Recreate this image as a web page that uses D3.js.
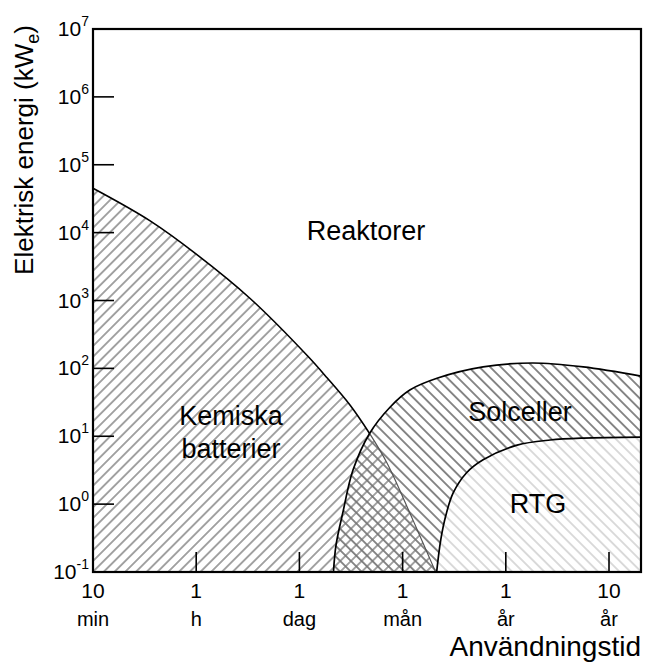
<!DOCTYPE html>
<html>
<head>
<meta charset="utf-8">
<script src="https://cdn.jsdelivr.net/npm/d3@7"></script>
<style>
  body { margin: 0; background: #fff; }
  text { font-family: "Liberation Sans", Arial, sans-serif; fill: #000; }
</style>
</head>
<body>
<div id="chart"></div>
<script>
// x positions are in "tick units": 0 = 10 min, 1 = 1 h, ... 5 = 10 år
const xTickTop = ["10", "1", "1", "1", "1", "10"];
const xTickBottom = ["min", "h", "dag", "mån", "år", "år"];
const yExponents = [-1, 0, 1, 2, 3, 4, 5, 6, 7];

// boundary curves: [tick unit, kWe]
const batterier = [
  [0, 4.5e4], [0.55, 1.5e4], [1.01, 4.7e3], [1.52, 1.08e3], [2.08, 152],
  [2.27, 72], [2.49, 28.8], [2.68, 11], [2.85, 4.0], [3.07, 0.74],
  [3.24, 0.19], [3.32, 0.1]
];
const solceller = [
  [2.33, 0.1], [2.355, 0.25], [2.42, 0.74], [2.52, 3.2], [2.68, 11],
  [2.88, 27], [3.07, 48], [3.34, 72], [3.78, 105], [4.26, 120],
  [4.75, 105], [5.31, 77]
];
const rtg = [
  [3.33, 0.1], [3.37, 0.30], [3.42, 0.69], [3.49, 1.46], [3.62, 2.9],
  [3.78, 4.5], [4.11, 7.4], [4.43, 8.8], [4.75, 9.4], [5.31, 9.7]
];
const crossing = 2.68;

const W = 646, H = 670;
const margin = {top: 29, right: 5, bottom: 98, left: 93};
const width = W - margin.left - margin.right;
const height = H - margin.top - margin.bottom;

const svg = d3.select("#chart").append("svg")
    .attr("width", W).attr("height", H);

const x = d3.scaleLinear().domain([0, 5.31]).range([0, width]);
const y = d3.scaleLog().domain([0.1, 1e7]).range([height, 0]);

// hatch patterns
const defs = svg.append("defs");
function hatch(id, angle, color, sw) {
  const p = defs.append("pattern")
      .attr("id", id)
      .attr("patternUnits", "userSpaceOnUse")
      .attr("width", 7.6).attr("height", 7.6)
      .attr("patternTransform", "rotate(" + angle + ")");
  p.append("line")
      .attr("x1", 3.8).attr("y1", -1).attr("x2", 3.8).attr("y2", 9)
      .attr("stroke", color).attr("stroke-width", sw);
}
hatch("hBat", 45, "#8e8e8e", 1.6);
hatch("hSol", -45, "#767676", 1.7);
hatch("hRtg", -45, "#d2d2d2", 1.6);

const g = svg.append("g")
    .attr("transform", "translate(" + margin.left + "," + margin.top + ")");

const curve = d3.curveCatmullRom.alpha(0.5);
const area = d3.area()
    .x(d => x(d[0]))
    .y0(height)
    .y1(d => y(d[1]))
    .curve(curve);
const line = d3.line()
    .x(d => x(d[0]))
    .y(d => y(d[1]))
    .curve(curve);

g.append("path").datum(batterier).attr("d", area).attr("fill", "url(#hBat)");
g.append("path").datum(solceller).attr("d", area).attr("fill", "url(#hSol)");
g.append("path").datum(rtg).attr("d", area).attr("fill", "#fff");
g.append("path").datum(rtg).attr("d", area).attr("fill", "url(#hRtg)");

// curves
g.append("path").datum(batterier.filter(d => d[0] <= crossing))
    .attr("d", line).attr("fill", "none").attr("stroke", "#000").attr("stroke-width", 1.6);
g.append("path").datum(batterier.filter(d => d[0] >= crossing))
    .attr("d", line).attr("fill", "none").attr("stroke", "#555").attr("stroke-width", 1.2);
g.append("path").datum(solceller)
    .attr("d", line).attr("fill", "none").attr("stroke", "#000").attr("stroke-width", 1.7);
g.append("path").datum(rtg)
    .attr("d", line).attr("fill", "none").attr("stroke", "#000").attr("stroke-width", 1.7);

// frame
g.append("rect")
    .attr("x", 0).attr("y", 0).attr("width", width).attr("height", height)
    .attr("fill", "none").attr("stroke", "#000").attr("stroke-width", 2.2);

// y ticks (inside) and labels
yExponents.forEach(e => {
  const yy = y(Math.pow(10, e));
  if (e > -1 && e < 7) {
    g.append("line")
        .attr("x1", 0).attr("x2", 21).attr("y1", yy).attr("y2", yy)
        .attr("stroke", "#000").attr("stroke-width", 1.6);
  }
  const t = g.append("text")
      .attr("x", -4).attr("y", yy + 7)
      .attr("text-anchor", "end")
      .style("font-size", "21px");
  t.append("tspan").text("10");
  t.append("tspan").attr("dy", -10).style("font-size", "14px").text(e);
});

// x ticks (inside) and labels
xTickTop.forEach((lab, i) => {
  const xx = x(i);
  if (i > 0) {
    g.append("line")
        .attr("x1", xx).attr("x2", xx).attr("y1", height).attr("y2", height - 20)
        .attr("stroke", "#000").attr("stroke-width", 1.6);
  }
  g.append("text").attr("x", xx).attr("y", height + 26)
      .attr("text-anchor", "middle").style("font-size", "21px").text(lab);
  g.append("text").attr("x", xx).attr("y", height + 54)
      .attr("text-anchor", "middle").style("font-size", "20px").text(xTickBottom[i]);
});

// axis titles
svg.append("text")
    .attr("x", 641).attr("y", 656)
    .attr("text-anchor", "end")
    .style("font-size", "28px")
    .text("Användningstid");

const yt = svg.append("text")
    .attr("transform", "translate(33,150) rotate(-90)")
    .attr("text-anchor", "middle")
    .style("font-size", "26px");
yt.append("tspan").text("Elektrisk energi (kW");
yt.append("tspan").attr("dy", 6).style("font-size", "18px").text("e");
yt.append("tspan").attr("dy", -6).text(")");

// region labels
const labels = [
  {t: "Reaktorer", x: 366, y: 240},
  {t: "Kemiska", x: 231, y: 425},
  {t: "batterier", x: 231, y: 458},
  {t: "Solceller", x: 520, y: 421},
  {t: "RTG", x: 538, y: 513}
];
svg.selectAll("text.region").data(labels).enter().append("text")
    .attr("class", "region")
    .attr("x", d => d.x).attr("y", d => d.y)
    .attr("text-anchor", "middle")
    .style("font-size", "27px")
    .text(d => d.t);
</script>
</body>
</html>
